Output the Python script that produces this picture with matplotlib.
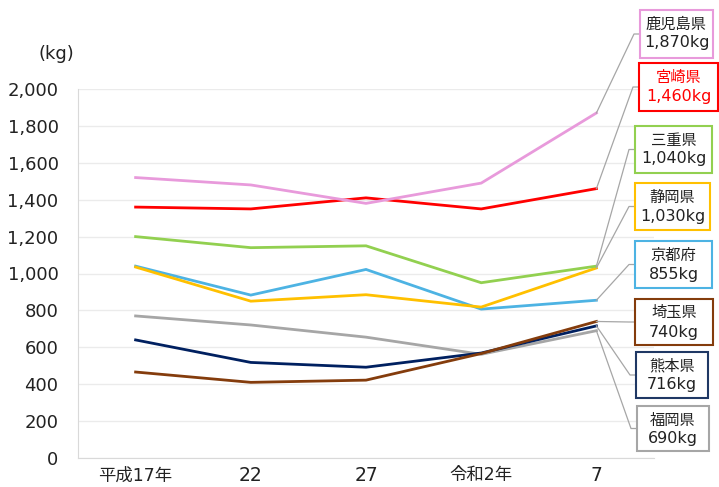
import matplotlib
matplotlib.use("Agg")
import matplotlib.pyplot as plt
from matplotlib.lines import Line2D
from matplotlib.patches import Rectangle

plt.rcParams['font.family'] = ['DejaVu Sans', 'Noto Sans CJK JP']

years = ["平成17年", "22", "27", "令和2年", "7"]
prefs = ["鹿児島県", "宮崎県", "三重県", "静岡県", "京都府", "埼玉県", "熊本県", "福岡県"]
end_labels = ["1,870kg", "1,460kg", "1,040kg", "1,030kg", "855kg", "740kg", "716kg", "690kg"]

kagoshima = [1520, 1480, 1380, 1490, 1870]
miyazaki = [1360, 1350, 1410, 1350, 1460]
mie = [1200, 1140, 1150, 950, 1040]
shizuoka = [1035, 850, 885, 818, 1030]
kyoto = [1040, 883, 1022, 807, 855]
saitama = [466, 410, 422, 566, 740]
kumamoto = [640, 518, 492, 569, 716]
fukuoka = [770, 721, 655, 562, 690]

series = [kagoshima, miyazaki, mie, shizuoka, kyoto, saitama, kumamoto, fukuoka]
colors = ["#E89ADB", "#FF0000", "#92D050", "#FFC000", "#4DB3E3", "#843C0C", "#002060", "#A6A6A6"]
edge_colors = ["#E89ADB", "#FF0000", "#92D050", "#FFC000", "#4DB3E3", "#843C0C", "#1F3864", "#A6A6A6"]

W, H = 719, 487
fig = plt.figure(figsize=(W / 100, H / 100), dpi=100)
ax = fig.add_axes([78 / W, (H - 458) / H, (654 - 78) / W, (458 - 89) / H])

x = list(range(len(years)))
# draw back to front
order = [7, 6, 5, 4, 3, 2, 1, 0]
for i in order:
    ax.plot(x, series[i], color=colors[i], lw=2.0, solid_joinstyle='miter', zorder=3)

ax.set_xlim(-0.5, 4.5)
ax.set_ylim(0, 2000)
ax.set_yticks(range(0, 2001, 200))
ax.set_yticklabels([f"{v:,}" for v in range(0, 2001, 200)], fontsize=13, color="#222222")
ax.set_xticks(x)
ax.set_xticklabels(years, color="#222222")
for lab in ax.get_xticklabels():
    lab.set_fontsize(12.5 if "年" in lab.get_text() else 13.5)
ax.tick_params(length=0, axis='y', pad=14)
ax.tick_params(length=0, axis='x', pad=6)
ax.grid(axis='y', color="#EBEBEB", lw=1)
ax.set_axisbelow(True)
for s in ["top", "right"]:
    ax.spines[s].set_visible(False)
for s in ["left", "bottom"]:
    ax.spines[s].set_color("#D9D9D9")

fig.text(38 / W, (H - 54) / H, "(kg)", fontsize=13, ha="left", va="center", color="#222222")

# label boxes (left, top, right, bottom) in pixels from top-left
boxes = [
    (640, 10, 713, 58),
    (639, 63, 718, 111),
    (635, 126, 712, 173),
    (635, 183, 710, 230),
    (635, 241, 712, 288),
    (635, 299, 713, 345),
    (636, 352, 708, 398),
    (637, 406, 709, 451),
]

fig.canvas.draw()
for i, (l, t, r, b) in enumerate(boxes):
    fig.patches.append(Rectangle((l / W, (H - b) / H), (r - l) / W, (b - t) / H,
                                 transform=fig.transFigure, fill=True, facecolor="white",
                                 edgecolor=edge_colors[i], lw=1.5, zorder=5))
    tc = "#FF0000" if i == 1 else "#222222"
    cx = (l + r) / 2 / W
    fig.text(cx, (H - (t + 14)) / H, prefs[i], fontsize=11, ha="center", va="center", color=tc, zorder=6)
    fig.text(cx, (H - (t + 33)) / H, end_labels[i], fontsize=11.5, ha="center", va="center", color=tc, zorder=6)
    # leader line from line end to box
    px, py = ax.transData.transform((4, series[i][-1]))
    my = (t + b) / 2
    xs = [px / W, (l - 6) / W, l / W]
    ys = [py / H, (H - my) / H, (H - my) / H]
    fig.add_artist(Line2D(xs, ys, transform=fig.transFigure, color="#A6A6A6", lw=0.9, zorder=4))

fig.savefig("out.png", dpi=100)
